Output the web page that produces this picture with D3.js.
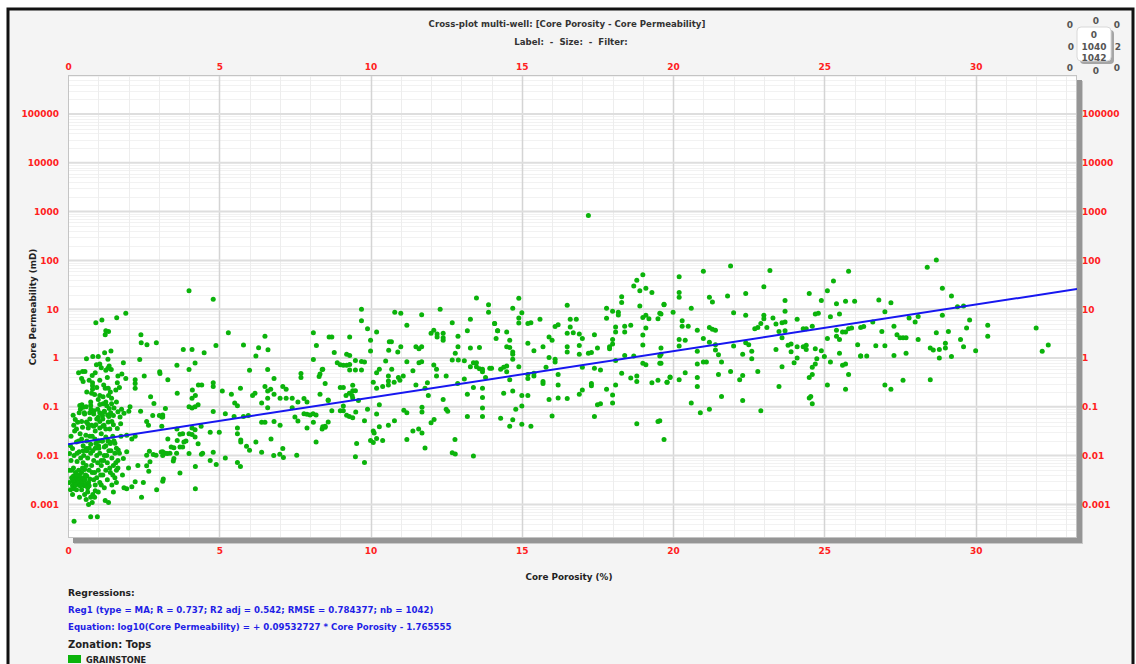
<!DOCTYPE html>
<html>
<head>
<meta charset="utf-8">
<script src="https://cdn.jsdelivr.net/npm/d3@7"></script>
<style>
  html, body { margin: 0; padding: 0; background: #ffffff; }
  svg { display: block; }
  text { font-family: "DejaVu Sans", Verdana, sans-serif; font-weight: bold; }
</style>
</head>
<body>
<svg id="chart" width="1136" height="664"></svg>
<script>
// ---- Core samples: [core porosity (%), core permeability (mD)] ----
const samplesPhi0to3 = [
  [1.91,8.3],[1.61,6.7],[1.12,6.0],[0.92,5.3],[1.25,3.6],[1.34,3.5],[1.23,3.0],[2.41,3.0],[2.42,2.05],[2.61,1.87],
  [2.92,2.05],[1.42,1.39],[1.21,1.28],[1.0,1.08],[0.82,1.07],[0.61,0.97],[1.32,0.94],[1.05,0.75],[0.94,0.73],[1.36,0.69],
  [1.43,0.58],[1.32,0.62],[1.83,0.8],[2.37,0.93],[0.35,0.5],[0.48,0.53],[0.56,0.53],[0.8,0.44],[1.65,0.43],[1.78,0.47],
  [1.91,0.38],[2.52,0.43],[3.03,0.52],[0.45,0.38],[0.5,0.33],[0.81,0.31],[0.81,0.27],[0.81,0.23],[2.22,0.36],[2.22,0.3],
  [2.22,0.24],[1.63,0.31],[1.58,0.22],[1.23,0.24],[1.33,0.24],[1.05,0.17],[1.16,0.16],[1.34,0.17],[1.44,0.15],[0.78,0.19],
  [2.73,0.16],[2.84,0.117],[0.39,0.107],[0.46,0.11],[0.41,0.089],[0.5,0.098],[0.37,0.076],[0.54,0.076],[0.75,0.107],[0.76,0.089],
  [0.72,0.076],[0.86,0.083],[1.16,0.115],[1.28,0.105],[1.36,0.092],[1.44,0.115],[1.52,0.095],[1.05,0.076],[1.2,0.081],[1.0,0.061],
  [1.14,0.066],[1.31,0.068],[1.41,0.076],[1.5,0.066],[1.77,0.089],[1.85,0.074],[2.05,0.1],[2.01,0.081],[1.72,0.062],[2.4,0.081],
  [2.6,0.05],[2.66,0.042],[2.8,0.066],[3.02,0.066],[3.13,0.068],[3.22,0.092],[0.17,0.067],[0.24,0.055],[0.19,0.042],[0.32,0.048],
  [0.28,0.035],[0.48,0.038],[0.61,0.049],[0.67,0.037],[0.78,0.042],[0.92,0.043],[1.05,0.037],[1.19,0.042],[1.33,0.049],[1.5,0.043],
  [1.63,0.036],[1.74,0.045],[1.94,0.026],[2.11,0.022],[2.22,0.025],[0.08,0.016],[0.15,0.014],[0.28,0.019],[0.45,0.022],[0.59,0.026],
  [0.5,0.016],[0.37,0.012],[0.61,0.014],[0.75,0.017],[0.89,0.022],[1.01,0.016],[1.14,0.02],[1.25,0.016],[1.38,0.019],[1.55,0.018],
  [1.66,0.013],[1.83,0.0087],[1.94,0.012],[2.0,0.0056],[2.31,0.0063],[2.6,0.0102],[2.69,0.0123],[2.82,0.0105],[2.91,0.0102],[2.71,0.0075],
  [2.67,0.0048],[2.6,0.0062],[3.13,0.012],[3.15,0.0033],[2.93,0.002],[2.49,0.0028],[2.22,0.0029],[2.11,0.0023],[1.94,0.0021],[1.85,0.0022],
  [2.43,0.0014]
];

const samplesPhi0to2Dense = [
  [0.12,0.0035],[0.15,0.0032],[0.18,0.0038],[0.2,0.0028],[0.22,0.0033],[0.25,0.003],[0.28,0.0035],[0.3,0.0026],[0.33,0.0032],[0.36,0.0028],
  [0.4,0.0034],[0.42,0.0025],[0.45,0.003],[0.48,0.00275],[0.5,0.0035],[0.53,0.0024],[0.56,0.0032],[0.6,0.0026],[0.62,0.0038],[0.65,0.0022],
  [0.68,0.0028],[0.72,0.0033],[0.15,0.0024],[0.2,0.0021],[0.25,0.0045],[0.35,0.005],[0.45,0.0045],[0.55,0.0052],[0.6,0.0063],[0.7,0.005],
  [0.8,0.0045],[0.85,0.0032],[0.9,0.0025],[0.95,0.0035],[1.0,0.005],[1.05,0.0028],[1.1,0.0063],[1.15,0.004],[1.2,0.0022],[1.25,0.005],
  [1.3,0.0032],[1.4,0.0045],[1.45,0.0025],[1.5,0.0063],[1.55,0.0035],[1.6,0.005],[0.55,0.0016],[0.6,0.00126],[0.65,0.0018],[0.75,0.0014],
  [0.8,0.0011],[0.82,0.0016],[0.9,0.0019],[0.15,0.0016],[0.1,0.0079],[0.2,0.01],[0.3,0.0076],[0.42,0.0089],[0.5,0.0071],[0.65,0.0089],
  [0.75,0.0112],[0.85,0.0079],[0.95,0.01],[1.05,0.0112],[1.1,0.0079],[1.2,0.01],[1.3,0.0071],[1.35,0.0126],[1.45,0.0089],[1.55,0.0112],
  [1.65,0.0079],[0.3,0.0112],[0.5,0.0126],[0.7,0.0141],[0.9,0.0141],[1.0,0.02],[1.2,0.015],[1.4,0.0178],[1.6,0.0141],[0.62,0.02],
  [0.8,0.025],[1.1,0.028],[1.25,0.024],[1.48,0.025],[0.4,0.028],[0.9,0.032],[1.05,0.05],[1.38,0.035],[0.72,0.056],[1.15,0.056],
  [0.55,0.071],[0.98,0.089],[1.25,0.126],[0.88,0.178],[0.62,0.2],[1.18,0.28],[1.3,0.4],[0.9,0.5],[1.1,0.63],[0.2,0.00045],
  [0.75,0.00056],[0.97,0.00056],[1.23,0.0012],[1.34,0.0011],[1.5,0.0018],[1.6,0.0028],[0.05,0.005],[0.05,0.011],[0.1,0.025],[0.08,0.002],
  [0.18,0.0056],[0.28,0.002],[0.38,0.004],[0.48,0.0056],[0.58,0.004],[0.7,0.0024],[0.78,0.0063],[0.88,0.0045],[0.98,0.0071],[1.08,0.004],
  [1.18,0.0079],[1.28,0.01],[1.38,0.0056],[1.48,0.004],[1.58,0.0071],[0.52,0.01],[0.62,0.0126],[0.82,0.0126],[0.92,0.0178],[1.02,0.0141],
  [1.12,0.02],[1.32,0.02],[1.42,0.0126],[1.52,0.02],[0.72,0.025],[0.85,0.04],[0.95,0.056],[1.15,0.04],[1.25,0.035],[1.45,0.05],
  [0.35,0.02],[0.22,0.032],[0.45,0.05],[0.65,0.045],[0.38,0.0014],[0.45,0.002],[0.68,0.001],[0.88,0.0014],[1.0,0.0018],[1.1,0.0025],
  [0.3,0.004],[0.12,0.005],[0.25,0.0025],[0.4,0.0024],[0.05,0.0028],[1.65,0.0056],[1.7,0.0112],[1.75,0.025],[1.8,0.004],[1.2,0.079],
  [1.05,0.112],[1.35,0.063],[0.75,0.126],[1.0,0.141],[1.4,0.2],[0.95,0.25],[1.25,0.56],[0.7,0.35],[1.05,0.35],[0.6,0.1],
  [0.85,0.071],[1.65,0.079],[1.6,0.126],[1.7,0.25]
];

const samplesPhi3to9 = [
  [4.0,24],[4.8,16],[5.3,3.3],[4.89,1.8],[4.5,1.28],[3.81,1.5],[4.1,1.5],[5.8,1.85],[6.51,2.8],[6.3,1.63],
  [6.61,1.48],[6.21,1.1],[8.11,3.3],[8.21,1.8],[8.11,0.93],[8.4,0.58],[8.3,0.42],[8.5,0.3],[7.7,0.48],[7.7,0.4],
  [3.6,0.71],[4.0,0.58],[4.2,0.79],[3.3,0.36],[3.04,0.48],[6.0,0.56],[6.6,0.58],[4.8,0.31],[4.8,0.26],[4.31,0.28],
  [4.42,0.28],[4.11,0.22],[4.21,0.17],[4.1,0.15],[4.0,0.1],[4.1,0.095],[4.2,0.1],[4.3,0.11],[3.61,0.19],[3.13,0.062],
  [5.1,0.21],[5.4,0.18],[5.51,0.12],[5.6,0.105],[5.7,0.24],[4.8,0.08],[5.2,0.072],[5.49,0.063],[5.8,0.063],[5.96,0.066],
  [6.1,0.17],[6.18,0.19],[6.4,0.12],[6.6,0.21],[6.6,0.15],[6.6,0.096],[6.51,0.26],[6.7,0.23],[6.81,0.38],[6.81,0.18],
  [7.01,0.15],[7.21,0.15],[7.41,0.15],[7.1,0.26],[7.21,0.23],[7.6,0.126],[7.8,0.148],[7.9,0.126],[7.41,0.096],[7.5,0.062],
  [7.6,0.051],[7.8,0.072],[7.9,0.07],[8.0,0.068],[8.1,0.072],[8.2,0.068],[7.9,0.037],[8.11,0.048],[8.2,0.019],[8.4,0.035],
  [8.5,0.04],[8.6,0.135],[8.63,2.7],[6.4,0.048],[6.51,0.048],[6.81,0.05],[7.01,0.042],[6.71,0.022],[6.21,0.019],[5.71,0.021],
  [5.71,0.019],[5.6,0.037],[5.6,0.028],[5.9,0.0155],[6.0,0.0129],[6.4,0.0117],[6.8,0.01],[7.0,0.0107],[7.12,0.0091],[7.1,0.014],
  [7.56,0.0102],[5.6,0.0072],[5.7,0.006],[5.2,0.0089],[4.9,0.0066],[4.8,0.0117],[4.7,0.0079],[4.7,0.03],[5.0,0.03],[4.4,0.04],
  [4.2,0.034],[4.2,0.024],[4.3,0.0174],[4.41,0.0107],[4.45,0.0112],[4.21,0.006],[4.21,0.0021],[4.0,0.011],[4.0,0.028],[4.1,0.027],
  [4.1,0.037],[3.9,0.02],[3.79,0.028],[3.7,0.0275],[3.83,0.019],[3.7,0.015],[3.79,0.015],[3.7,0.0044],[3.61,0.0204],[3.59,0.0112],
  [3.5,0.0145],[3.48,0.0078],[3.5,0.0087],[3.41,0.015],[3.37,0.0112],[3.3,0.022],[3.28,0.011],[3.22,0.0112],[3.13,0.01],[3.08,0.0118],
  [3.13,0.003],[3.6,0.035],[3.1,0.04],[3.1,0.062]
];

const samplesPhi8to14 = [
  [13.5,17],[13.9,12.3],[13.9,8.7],[9.7,10],[9.7,5.8],[10.8,8.7],[11.0,8.3],[11.69,7.7],[12.3,10],[12.7,5.3],
  [13.3,6.2],[14.1,5.1],[11.2,4.7],[9.9,4.0],[10.2,3.4],[10.0,2.3],[10.0,1.39],[8.72,2.7],[9.31,2.7],[8.8,1.3],
  [9.21,1.2],[9.31,1.13],[8.9,0.8],[9.0,0.73],[9.1,0.71],[9.21,0.71],[9.31,0.74],[9.5,0.89],[9.7,0.85],[9.8,0.83],
  [9.5,0.57],[9.31,0.57],[9.7,0.57],[10.6,1.45],[10.69,2.15],[10.62,2.15],[11.0,1.7],[10.9,1.33],[11.5,1.7],[11.6,1.55],
  [11.69,1.7],[11.2,0.84],[11.6,0.8],[11.69,0.84],[10.7,0.59],[10.5,0.87],[12.0,3.2],[12.09,3.7],[12.2,3.1],[12.2,2.7],
  [12.4,3.2],[12.4,2.6],[12.4,2.3],[12.89,2.8],[12.89,1.7],[12.8,1.25],[12.7,0.91],[12.9,0.91],[13.1,0.88],[13.2,3.6],
  [13.3,1.6],[13.6,1.65],[14.2,3.6],[14.15,2.5],[13.4,0.8],[13.5,0.8],[13.5,0.66],[13.6,0.6],[13.7,0.59],[13.7,0.52],
  [13.3,0.66],[14.0,0.62],[12.09,0.72],[12.18,0.59],[12.18,0.43],[12.5,0.43],[11.4,0.55],[11.08,0.43],[10.92,0.4],[10.97,0.35],
  [10.78,0.32],[10.59,0.43],[10.59,0.34],[10.59,0.28],[10.4,0.26],[10.29,0.59],[10.2,0.5],[10.09,0.32],[10.2,0.24],[11.5,0.28],
  [11.88,0.31],[11.8,0.24],[11.91,0.17],[12.88,0.3],[13.1,0.37],[13.4,0.25],[13.8,0.4],[13.7,0.24],[13.2,0.18],[13.7,0.156],
  [13.7,0.095],[13.7,0.063],[13.2,0.063],[12.4,0.142],[12.5,0.089],[12.55,0.081],[12.1,0.055],[12.0,0.047],[11.7,0.098],[11.7,0.078],
  [11.2,0.076],[11.1,0.085],[10.79,0.052],[10.59,0.042],[10.29,0.039],[10.29,0.11],[10.2,0.071],[9.9,0.089],[9.8,0.052],[10.09,0.032],
  [10.12,0.029],[10.09,0.0185],[10.2,0.0225],[10.0,0.0204],[10.4,0.0204],[9.54,0.0178],[11.4,0.032],[11.59,0.035],[11.7,0.029],[11.2,0.0215],
  [11.8,0.0144],[12.79,0.0215],[12.7,0.0115],[12.8,0.0108],[13.4,0.0098],[9.5,0.0095],[9.8,0.0072],[8.33,0.47],[8.42,0.59],[8.33,0.18],
  [8.6,0.138],[8.72,0.083],[9.0,0.25],[9.1,0.25],[9.19,0.17],[9.3,0.19],[9.41,0.275],[9.41,0.214],[9.41,0.151],[9.5,0.214],
  [9.39,0.17],[9.6,0.134],[9.51,0.078],[9.0,0.083],[9.1,0.104],[9.1,0.083],[9.21,0.067],[9.3,0.063],[9.41,0.06],[8.6,0.049],
  [8.42,0.039],[8.5,0.038]
];

const samplesPhi14to20 = [
  [17.2,830],[19.0,51],[18.8,39],[18.7,30],[19.1,27],[18.9,24],[19.3,22],[18.3,18],[18.3,13.8],[18.19,8.7],
  [18.19,7.6],[18.0,9.1],[17.8,10.5],[17.8,6.5],[18.9,11.7],[19.7,12.3],[19.1,7.5],[19.0,6.8],[19.2,6.4],[19.5,6.4],
  [19.6,8.0],[16.5,12],[14.9,16.7],[14.7,10.5],[15.0,8.5],[14.9,6.6],[14.9,5.2],[15.6,6.2],[15.3,5.3],[15.2,5.1],
  [16.6,6.2],[16.8,6.2],[14.1,5.1],[14.2,3.6],[14.5,3.4],[14.6,2.3],[14.5,1.7],[14.6,1.65],[14.7,1.33],[14.7,1.2],
  [14.7,0.94],[15.2,2.0],[15.4,1.41],[15.7,1.7],[15.9,2.7],[16.0,2.3],[16.1,4.4],[16.2,4.8],[16.6,4.3],[16.5,3.2],
  [16.7,3.3],[16.9,3.1],[17.0,2.5],[16.5,1.7],[16.5,1.33],[16.9,1.8],[16.9,1.2],[17.2,1.25],[17.3,1.29],[17.4,3.0],
  [17.5,1.6],[18.1,4.3],[18.1,3.4],[18.0,2.4],[18.0,1.94],[17.9,1.7],[17.9,1.55],[18.4,4.5],[18.6,4.7],[18.4,3.4],
  [18.1,0.89],[18.4,1.13],[18.7,1.1],[19.0,2.95],[19.0,1.85],[19.1,4.1],[19.6,1.6],[19.6,1.2],[15.9,1.03],[16.1,0.94],
  [16.1,0.83],[15.8,0.65],[15.4,0.49],[15.2,0.46],[15.2,0.38],[14.9,0.66],[14.5,0.69],[14.4,0.65],[14.3,0.59],[13.94,0.62],
  [14.5,0.52],[14.6,0.36],[16.2,0.46],[16.2,0.28],[15.7,0.33],[15.7,0.3],[15.4,0.43],[17.0,0.65],[17.3,0.3],[17.3,0.27],
  [17.4,0.62],[17.6,0.57],[16.9,0.18],[17.0,0.22],[17.8,0.23],[18.0,0.174],[18.0,0.12],[18.1,0.28],[18.3,0.49],[18.6,0.39],
  [18.8,0.43],[18.8,0.33],[19.0,0.78],[19.1,0.73],[19.3,0.31],[19.5,0.35],[19.6,0.78],[19.8,0.32],[19.9,0.41],[14.4,0.19],
  [14.7,0.21],[15.0,0.17],[15.2,0.17],[15.0,0.104],[14.8,0.089],[15.9,0.142],[16.2,0.151],[16.5,0.148],[17.5,0.11],[17.6,0.115],
  [14.3,0.058],[14.7,0.054],[14.6,0.04],[15.0,0.044],[15.3,0.04],[16.0,0.065],[17.4,0.063],[18.8,0.045],[19.5,0.05],[19.7,0.0215]
];

const samplesPhi20to26 = [
  [21.9,77],[21.0,60],[23.2,62],[20.2,46],[20.2,22],[20.2,17.5],[23.0,29],[22.4,21],[21.8,18.6],[21.2,17.5],
  [21.3,14],[19.7,12.6],[20.6,10.5],[20.0,8.7],[22.0,8.5],[22.4,7.5],[19.56,8.3],[20.3,5.8],[20.3,4.5],[20.5,4.5],
  [20.8,3.7],[21.2,4.2],[21.3,3.9],[21.4,3.7],[21.0,2.5],[21.2,2.1],[20.2,2.4],[20.4,2.3],[20.2,1.76],[20.8,1.37],
  [21.0,0.83],[21.1,0.83],[20.8,0.75],[21.4,1.87],[21.4,1.46],[21.5,1.17],[21.6,0.83],[22.0,1.76],[22.3,1.2],[22.4,2.06],
  [22.5,1.87],[22.6,1.37],[22.6,0.97],[22.8,0.53],[23.0,7.5],[23.0,6.4],[22.9,5.1],[22.8,4.2],[22.7,4.0],[23.1,4.2],
  [23.3,6.6],[23.4,5.0],[23.5,3.5],[23.6,5.3],[23.7,5.5],[23.7,9.1],[23.7,15],[23.6,2.6],[23.7,3.6],[24.1,6.2],
  [24.3,4.0],[24.4,4.0],[24.5,21],[24.6,4.5],[24.7,8.0],[24.8,8.3],[24.9,15],[25.1,24],[25.3,38],[25.4,13],
  [25.7,14.5],[25.8,60],[26.0,14.5],[23.4,1.5],[23.5,0.26],[23.6,0.66],[23.8,1.82],[23.9,1.94],[23.9,1.35],[24.0,0.8],
  [24.1,1.7],[24.1,1.0],[24.3,1.7],[24.4,1.82],[24.4,1.5],[24.5,0.4],[24.6,0.65],[24.6,0.46],[24.7,0.75],[24.7,1.55],
  [24.75,0.97],[24.9,1.41],[25.0,1.07],[25.2,0.83],[25.1,2.5],[25.2,7.0],[25.4,3.7],[25.4,2.8],[25.5,2.4],[25.5,1.25],
  [25.5,8.0],[25.6,3.4],[25.7,3.4],[25.6,0.71],[25.7,0.75],[25.8,4.0],[25.9,4.1],[25.8,0.46],[25.7,0.23],[26.1,1.87],
  [26.2,1.1],[26.2,4.2],[24.5,0.151],[24.55,0.162],[24.6,0.115],[25.1,0.28],[19.56,1.1],[19.56,0.78],[19.8,0.32],[19.9,0.4],
  [20.2,0.36],[20.4,0.5],[20.6,0.12],[20.8,0.4],[20.8,0.26],[20.9,0.076],[21.2,0.089],[21.5,0.46],[21.6,0.162],[21.9,0.53],
  [22.2,0.36],[22.3,0.44],[22.3,0.134],[22.9,0.083],[19.56,0.052]
];

const samplesPhi26to33 = [
  [28.7,102],[28.4,72],[28.9,27],[29.2,18.6],[26.8,15.5],[27.2,13.5],[27.0,8.9],[29.4,11.2],[29.6,11.7],[26.6,5.5],
  [27.8,6.6],[28.1,7.1],[28.0,5.5],[28.9,7.5],[29.8,6.0],[29.7,4.1],[30.4,4.7],[30.4,2.8],[32.0,4.1],[32.4,1.85],
  [32.2,1.37],[26.3,4.4],[26.9,3.5],[27.3,4.5],[27.4,3.0],[27.5,2.6],[27.6,2.6],[27.7,2.6],[28.1,2.4],[28.7,3.3],
  [29.1,3.5],[29.0,2.0],[29.0,1.6],[28.8,1.5],[28.5,1.6],[28.6,1.46],[28.8,1.0],[29.2,1.07],[29.5,2.4],[29.6,1.7],
  [30.0,1.41],[26.7,1.78],[27.0,1.78],[26.2,1.1],[26.4,1.1],[27.3,1.13],[27.7,1.25],[27.0,0.28],[27.2,0.23],[27.6,0.35],
  [28.5,0.36]
];

// ---- Axes, ticks and regression ----
const porosityDomain = [0, 33.35];
const permeabilityDomain = [2.05e-4, 6.3e5];
const porosityTicks = [0, 5, 10, 15, 20, 25, 30];
const permeabilityTicks = [0.001, 0.01, 0.1, 1, 10, 100, 1000, 10000, 100000];
const permeabilityTickLabels = ["0.001", "0.01", "0.1", "1", "10", "100", "1000", "10000", "100000"];
const regSlope = 0.09532727;
const regIntercept = -1.765555;

const titleLines = ["Cross-plot multi-well: [Core Porosity - Core Permeability]", "Label:  -  Size:  -  Filter:"];
const xTitle = "Core Porosity (%)";
const yTitle = "Core Permeability (mD)";
const legendLines = [
  "Reg1 (type = MA; R = 0.737; R2 adj = 0.542; RMSE = 0.784377; nb = 1042)",
  "Equation: log10(Core Permeability) = + 0.09532727 * Core Porosity - 1.765555"
];
const zoneNames = ["GRAINSTONE"];
// point counters around the summary box: [top-left, top, top-right, left, right, bottom-left, bottom, bottom-right]
const counterOuter = ["0", "0", "0", "0", "2", "0", "0", "0"];
const counterInner = ["0", "1040", "1042"];

const allSamples = [].concat(samplesPhi0to3, samplesPhi0to2Dense, samplesPhi3to9,
  samplesPhi8to14, samplesPhi14to20, samplesPhi20to26, samplesPhi26to33);

// ---- Layout ----
const plot = { left: 68, right: 1077, top: 75, bottom: 538 };
const svg = d3.select("#chart");

// window frame
svg.append("rect").attr("x", 8).attr("y", 9).attr("width", 1125).attr("height", 700)
  .attr("fill", "#f4f4f4").attr("stroke", "#111").attr("stroke-width", 3);

const x = d3.scaleLinear().domain(porosityDomain).range([plot.left, plot.right]);
const y = d3.scaleLog().domain(permeabilityDomain).range([plot.bottom, plot.top]);

// titles
svg.append("text").attr("x", 567).attr("y", 27).attr("text-anchor", "middle")
  .attr("font-size", 8.6).attr("fill", "#333").text(titleLines[0]);
svg.append("text").attr("x", 571).attr("y", 45).attr("text-anchor", "middle")
  .attr("font-size", 8.6).attr("fill", "#333").attr("xml:space", "preserve").text(titleLines[1]);

// plot box shadow + background
svg.append("rect").attr("x", plot.left + 6).attr("y", plot.top + 6)
  .attr("width", plot.right - plot.left).attr("height", plot.bottom - plot.top).attr("fill", "#c9c9c9");
svg.append("rect").attr("x", plot.left + 5).attr("y", plot.top + 5)
  .attr("width", plot.right - plot.left).attr("height", plot.bottom - plot.top).attr("fill", "#959595");
svg.append("rect").attr("x", plot.left).attr("y", plot.top)
  .attr("width", plot.right - plot.left).attr("height", plot.bottom - plot.top)
  .attr("fill", "#fff");

const grid = svg.append("g");
// horizontal grid: minor (2..9) and decade lines
const [lo, hi] = permeabilityDomain.map(v => Math.floor(Math.log10(v)));
const minorVals = [], decadeVals = [];
for (let d = lo; d <= hi; d++) {
  for (let m = 1; m <= 9; m++) {
    const v = m * Math.pow(10, d);
    if (v < permeabilityDomain[0] || v > permeabilityDomain[1]) continue;
    (m === 1 ? decadeVals : minorVals).push(v);
  }
}
grid.selectAll("line.hmin").data(minorVals).join("line")
  .attr("x1", plot.left).attr("x2", plot.right)
  .attr("y1", d => Math.round(y(d)) + 0.5).attr("y2", d => Math.round(y(d)) + 0.5)
  .attr("stroke", "#f2f2f2").attr("stroke-width", 1);
// vertical grid each porosity unit
const vUnits = d3.range(1, Math.floor(porosityDomain[1]) + 1);
grid.selectAll("line.v").data(vUnits).join("line")
  .attr("x1", d => Math.round(x(d)) + 0.5).attr("x2", d => Math.round(x(d)) + 0.5)
  .attr("y1", plot.top).attr("y2", plot.bottom)
  .attr("stroke", d => d % 5 === 0 ? "#d4d4d4" : "#ededed").attr("stroke-width", d => d % 5 === 0 ? 1.5 : 1);
grid.selectAll("line.hdec").data(decadeVals).join("line")
  .attr("x1", plot.left).attr("x2", plot.right)
  .attr("y1", d => y(d)).attr("y2", d => y(d))
  .attr("stroke", "#dedede").attr("stroke-width", 2);

// plot border
svg.append("rect").attr("x", plot.left + 0.5).attr("y", plot.top + 0.5)
  .attr("width", plot.right - plot.left - 1).attr("height", plot.bottom - plot.top - 1)
  .attr("fill", "none").attr("stroke", "#c4c4c4");

// data points
svg.append("clipPath").attr("id", "plotClip").append("rect")
  .attr("x", plot.left).attr("y", plot.top).attr("width", plot.right - plot.left).attr("height", plot.bottom - plot.top);
svg.append("g").attr("clip-path", "url(#plotClip)")
  .selectAll("circle").data(allSamples).join("circle")
  .attr("cx", d => x(d[0])).attr("cy", d => y(d[1])).attr("r", 2.5)
  .attr("fill", "#0bb30b");

// regression line
const regLine = d3.line().x(d => x(d)).y(d => y(Math.pow(10, regSlope * d + regIntercept)));
svg.append("path").datum(porosityDomain).attr("d", regLine)
  .attr("fill", "none").attr("stroke", "#1717f0").attr("stroke-width", 2).attr("clip-path", "url(#plotClip)");

// axes
const fmtPerm = d => permeabilityTickLabels[permeabilityTicks.indexOf(d)];
function styleAxis(g) {
  g.select(".domain").remove();
  g.selectAll(".tick line").remove();
  g.selectAll("text").attr("fill", "#ff2020").attr("font-size", 9)
    .attr("font-family", "'DejaVu Sans', Verdana, sans-serif").attr("font-weight", "bold");
}
svg.append("g").attr("transform", `translate(0,${plot.bottom})`)
  .call(d3.axisBottom(x).tickValues(porosityTicks).tickSize(0).tickPadding(10)).call(styleAxis);
svg.append("g").attr("transform", `translate(0,${plot.top})`)
  .call(d3.axisTop(x).tickValues(porosityTicks).tickSize(0).tickPadding(5)).call(styleAxis);
svg.append("g").attr("transform", `translate(${plot.left},0)`)
  .call(d3.axisLeft(y).tickValues(permeabilityTicks).tickFormat(fmtPerm).tickSize(0).tickPadding(9)).call(styleAxis);
svg.append("g").attr("transform", `translate(${plot.right},0)`)
  .call(d3.axisRight(y).tickValues(permeabilityTicks).tickFormat(fmtPerm).tickSize(0).tickPadding(5)).call(styleAxis);

// axis titles
svg.append("text").attr("x", 569).attr("y", 580).attr("text-anchor", "middle")
  .attr("font-size", 8.8).attr("fill", "#222").text(xTitle);
svg.append("text").attr("transform", "translate(36,307) rotate(-90)").attr("text-anchor", "middle")
  .attr("font-size", 8.8).attr("fill", "#222").text(yTitle);

// legend
svg.append("text").attr("x", 68).attr("y", 596).attr("font-size", 9.2).attr("fill", "#222").text("Regressions:");
svg.selectAll("text.reg").data(legendLines).join("text")
  .attr("x", 68).attr("y", (d, i) => 612.5 + i * 17).attr("font-size", 8.65).attr("fill", "#1f1fe6").text(d => d);
svg.append("text").attr("x", 68).attr("y", 648).attr("font-size", 10).attr("fill", "#222").text("Zonation: Tops");
svg.selectAll("rect.zone").data(zoneNames).join("rect")
  .attr("x", 68).attr("y", 655).attr("width", 13).attr("height", 8).attr("fill", "#0bb30b");
svg.selectAll("text.zone").data(zoneNames).join("text")
  .attr("x", 86).attr("y", 663).attr("font-size", 8.2).attr("fill", "#222").text(d => d);

// summary counter box
const box = { x: 1077, y: 27, w: 34, h: 34 };
svg.append("rect").attr("x", box.x + 3).attr("y", box.y + 3).attr("width", box.w).attr("height", box.h)
  .attr("rx", 4).attr("fill", "#a5a5a5");
svg.append("rect").attr("x", box.x).attr("y", box.y).attr("width", box.w).attr("height", box.h)
  .attr("rx", 4).attr("fill", "#fff").attr("stroke", "#d8d8d8");
const outerPos = [[1070, 28], [1096, 24], [1117, 28], [1071, 50], [1118, 50], [1070, 71], [1096, 74], [1117, 71]];
svg.selectAll("text.cout").data(counterOuter).join("text")
  .attr("x", (d, i) => outerPos[i][0]).attr("y", (d, i) => outerPos[i][1]).attr("text-anchor", "middle")
  .attr("font-size", 9).attr("fill", "#555").text(d => d);
svg.selectAll("text.cin").data(counterInner).join("text")
  .attr("x", 1094).attr("y", (d, i) => 38 + i * 11.5).attr("text-anchor", "middle")
  .attr("font-size", 9).attr("fill", "#555").text(d => d);
</script>
</body>
</html>
